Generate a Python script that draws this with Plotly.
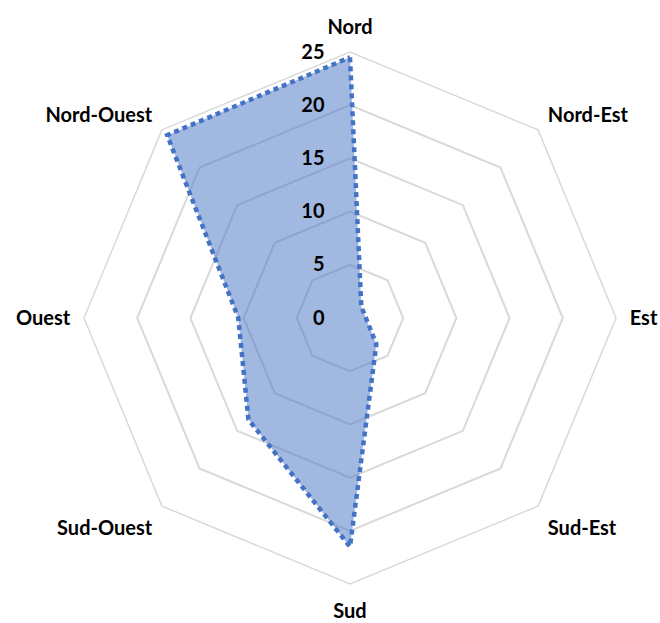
import plotly.graph_objects as go

directions = ["Nord", "Nord-Est", "Est", "Sud-Est", "Sud", "Sud-Ouest", "Ouest", "Nord-Ouest"]
values = [24.5, 1.5, 1.5, 3.5, 21.5, 13.5, 10.5, 24.3]
radial_ticks = [0, 5, 10, 15, 20, 25]

fig = go.Figure()
fig.add_trace(go.Scatterpolar(
    r=values + values[:1],
    theta=directions + directions[:1],
    mode="lines",
    fill="toself",
    fillcolor="rgba(68,114,196,0.5)",
    line=dict(color="#4472C4", width=4.5, dash="5px,4px"),
    showlegend=False,
))

font_family = "Lato, 'Open Sans', sans-serif"
fig.update_layout(
    width=660, height=623,
    margin=dict(l=84, r=44, t=52, b=39),
    paper_bgcolor="white",
    plot_bgcolor="white",
    font=dict(family=font_family, size=20, color="black", weight="bold"),
    polar=dict(
        bgcolor="white",
        gridshape="linear",
        domain=dict(x=[0, 1], y=[0, 1]),
        angularaxis=dict(
            rotation=90, direction="clockwise",
            showgrid=False, showline=True, linecolor="#d9d9d9", linewidth=1.5,
            ticks="outside", ticklen=9, tickcolor="rgba(0,0,0,0)",
            tickfont=dict(family=font_family, size=20, color="black", weight="bold"),
        ),
        radialaxis=dict(
            range=[0, 25], tickvals=radial_ticks, angle=90, tickangle=90,
            showline=False, ticks="outside", ticklen=18, tickcolor="rgba(0,0,0,0)",
            gridcolor="#d9d9d9", gridwidth=1.5,
            tickfont=dict(family=font_family, size=20, color="black", weight="bold"),
            side="counterclockwise",
        ),
    ),
)
fig.write_html("out.html", config={"displayModeBar": False},
               post_script="document.body.style.margin='0';")
